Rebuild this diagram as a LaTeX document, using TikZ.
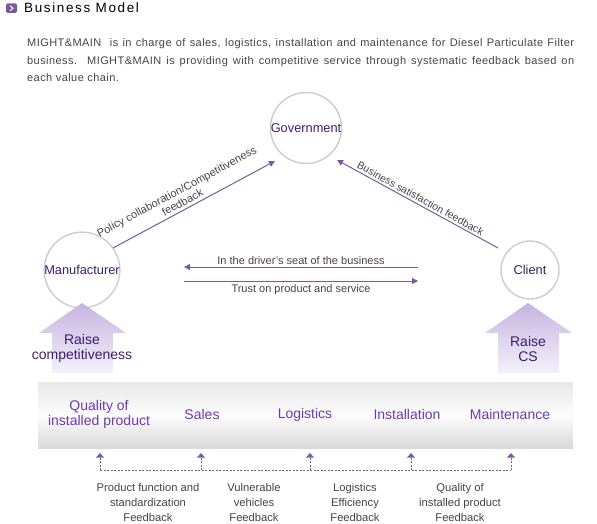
\documentclass[tikz,border=0pt]{standalone}
\usepackage{fontspec}
\setmainfont{Liberation Sans}
\usetikzlibrary{positioning}
\usetikzlibrary{arrows.meta}
\usetikzlibrary{calc}

\definecolor{flowpurple}{HTML}{7A5A9E}
\definecolor{darkpurple}{HTML}{3E1D6A}
\definecolor{chainpurple}{HTML}{6A3CB0}
\definecolor{raiselight}{HTML}{C6B4E0}
\definecolor{raisepale}{HTML}{F4F0FA}
\definecolor{ringgray}{HTML}{CCCCCC}
\definecolor{textgray}{HTML}{444444}

\tikzset{
  ring/.style={circle, draw=ringgray, line width=1.4pt, minimum size=58pt, inner sep=0pt,
               text=darkpurple, font=\fontsize{12.8}{14}\selectfont},
  flow/.style={draw=flowpurple, line width=1pt, -{Triangle[length=6pt,width=6pt]}},
  feed/.style={draw=flowpurple, line width=0.9pt, dash pattern=on 2pt off 1.5pt},
  flowlabel/.style={text=textgray, font=\fontsize{11}{12}\selectfont, align=center, inner sep=2pt},
  chainlabel/.style={text=chainpurple, font=\fontsize{14}{15.5}\selectfont, align=center},
  feedlabel/.style={text=textgray, font=\fontsize{11.2}{15}\selectfont, align=center},
  raiselabel/.style={text=darkpurple, font=\fontsize{14}{15}\selectfont, align=center},
  raisearrow/.style={top color=raiselight, bottom color=raisepale, draw=none}
}

\begin{document}
\begin{tikzpicture}[x=1pt,y=-1pt]
  \useasboundingbox (0,0) rectangle (597,524);

  % Title and intro text
  \fill[flowpurple, rounded corners=1.5pt] (6,3.5) rectangle (17,13);
  \draw[white, line width=1pt] (10,5.8) -- (13,8.3) -- (10,10.8);
  \node[anchor=base west, inner sep=0pt, font=\fontsize{13.5}{14}\selectfont\addfontfeatures{LetterSpace=12}] (title) at (24,13) {Business Model};
  \node[anchor=base west, inner sep=0pt, text width=547pt, align=justify, text=textgray,
        font=\fontsize{11}{17.5}\selectfont\addfontfeatures{LetterSpace=4}] (intro) at (27,47)
    {MIGHT\&MAIN\ \ is in charge of sales, logistics, installation and maintenance for Diesel Particulate Filter\linebreak
     business.\ \ MIGHT\&MAIN is providing with competitive service through systematic feedback based on\linebreak
     each value chain.};

  % Define the three partners
  \node[ring] (gov) at (306,128) {Government};
  \node[ring] (man) at (82,270) {Manufacturer};
  \node[ring] (cli) at (530,270) {Client};

  % Arrow ends
  \coordinate (mg) at (113,248);
  \coordinate (gm) at (275,161);
  \coordinate (cg) at (498,248);
  \coordinate (gc) at (337,160);
  \coordinate (seatR) at (418,267);
  \coordinate (seatL) at (184,267);
  \coordinate (trustL) at (184,281);
  \coordinate (trustR) at (418,281);

  \draw[flow] (mg) -- (gm)
    node[pos=0.45, sloped, above, flowlabel, inner sep=3pt] {Policy collaboration/Competitiveness\\feedback};
  \draw[flow] (cg) -- (gc)
    node[midway, sloped, above, flowlabel, font=\fontsize{10.4}{12}\selectfont] {Business satisfaction feedback};
  \draw[flow] (seatR) -- (seatL)
    node[midway, above, flowlabel] {In the driver’s seat of the business};
  \draw[flow] (trustL) -- (trustR)
    node[midway, below, flowlabel, yshift=-1.5pt] {Trust on product and service};

  % Raise arrows
  \path[raisearrow] (82,303) -- (126,333) -- (113,333) -- (113,373) -- (52,373) -- (52,333) -- (39,333) -- cycle;
  \path[raisearrow] (528,303) -- (572,333) -- (559,333) -- (559,373) -- (498,373) -- (498,333) -- (485,333) -- cycle;
  \node[raiselabel] (raisecomp) at (82,348.5) {Raise\\competitiveness};
  \node[raiselabel] (raisecs) at (528,348.5) {Raise\\CS};

  % Value chain band
  \shade[top color=black!9, bottom color=black!15, middle color=black!1] (38,382) rectangle (573,448);
  \node[chainlabel] (qual) at (99,414.5) {Quality of\\installed product};
  \node[chainlabel] (sales) at (202,414.5) {Sales};
  \node[chainlabel] (logi) at (305,414.5) {Logistics};
  \node[chainlabel] (inst) at (407,414.5) {Installation};
  \node[chainlabel] (main) at (510,414.5) {Maintenance};

  % Feedback loop
  \foreach \name/\x in {qual/100, sales/201, logi/310, inst/411, main/511} {
    \coordinate (\name top) at (\x,453);
    \coordinate (\name bot) at (\x,470);
    \draw[feed] (\name bot) -- (\name top);
    \fill[flowpurple] (\name top) -- ++(4,4.5) -- ++(-8,0) -- cycle;
  }
  \draw[feed] (qualbot) -- (mainbot);

  \node[feedlabel] (fbprod) at (148,502) {Product function and\\standardization\\Feedback};
  \node[feedlabel] (fbveh) at (254,502) {Vulnerable\\vehicles\\Feedback};
  \node[feedlabel] (fblogi) at (355,502) {Logistics\\Efficiency\\Feedback};
  \node[feedlabel] (fbqual) at (460,502) {Quality of\\installed product\\Feedback};
\end{tikzpicture}
\end{document}
